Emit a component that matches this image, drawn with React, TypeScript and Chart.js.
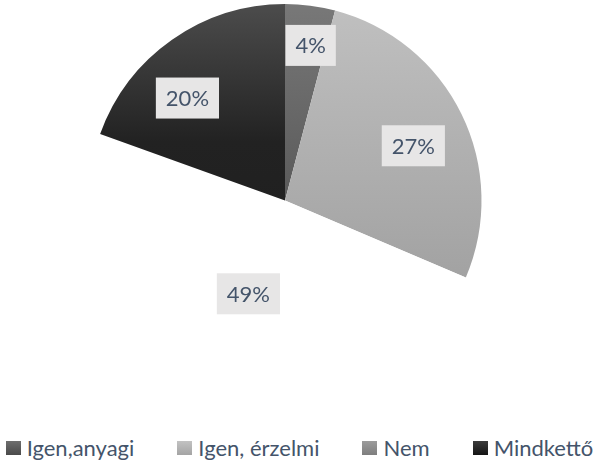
import React, { useEffect, useRef } from "react";
import { Chart, registerables } from "chart.js";

Chart.register(...registerables);

// ---- data ----
const categories = ["Igen,anyagi", "Igen, érzelmi", "Nem", "Mindkettő"];
const values = [4.1, 27.3, 49.1, 19.5];

// ---- styles / layout ----
const FONT = "Lato, 'Open Sans', sans-serif";
const TEXT_COLOR = "#44546A";
const LEGEND_GRADIENTS = [
  "linear-gradient(#6e6e6e, #4a4a4a)",
  "linear-gradient(#c2c2c2, #a4a4a4)",
  "linear-gradient(#9c9c9c, #7e7e7e)",
  "linear-gradient(#3c3c3c, #141414)",
];
const SLICE_FALLBACK = ["#5e5e5e", "#b3b3b3", "#ffffff", "#2b2b2b"];
const SLICE_STOPS: Array<Array<[number, string]>> = [
  [[0, "#787878"], [0.5, "#5a5a5a"], [1, "#4a4a4a"]],
  [[0, "#c0c0c0"], [0.7, "#a2a2a2"], [1, "#979797"]],
  [[0, "#ffffff"], [1, "#ffffff"]],
  [[0, "#4c4c4c"], [0.35, "#222222"], [1, "#1b1b1b"]],
];
const LABEL_RADIUS = [0.8, 0.71, 0.51, 0.72];
const LABEL_SHIFT_DEG = [2, 3, 0, -8.5];
const LABEL_SIZE = 22;

const labelPlugin = {
  id: "boxLabels",
  afterDatasetsDraw(chart: any) {
    const ctx = chart.ctx;
    const meta = chart.getDatasetMeta(0);
    const total = values.reduce((a, b) => a + b, 0);
    ctx.save();
    ctx.font = `${LABEL_SIZE}px ${FONT}`;
    meta.data.forEach((arc: any, i: number) => {
      const { x, y, startAngle, endAngle, outerRadius } = arc.getProps(
        ["x", "y", "startAngle", "endAngle", "outerRadius"],
        true
      );
      const a = (startAngle + endAngle) / 2 + (LABEL_SHIFT_DEG[i] * Math.PI) / 180;
      const r = outerRadius * LABEL_RADIUS[i];
      const px = x + Math.cos(a) * r;
      const py = y + Math.sin(a) * r;
      const text = Math.round((values[i] / total) * 100) + "%";
      const w = ctx.measureText(text).width + 20;
      const h = 41;
      ctx.fillStyle = "#E7E6E6";
      ctx.fillRect(px - w / 2, py - h / 2, w, h);
      ctx.fillStyle = TEXT_COLOR;
      ctx.textAlign = "center";
      ctx.textBaseline = "middle";
      ctx.fillText(text, px, py + 1);
    });
    ctx.restore();
  },
};

export default function App() {
  const ref = useRef<HTMLCanvasElement | null>(null);
  useEffect(() => {
    if (!ref.current) return;
    const chart = new Chart(ref.current, {
      type: "pie",
      data: {
        labels: categories,
        datasets: [
          {
            data: values,
            borderWidth: 0,
            backgroundColor: (c: any) => {
              const chart = c.chart;
              const area = chart.chartArea;
              const i = c.dataIndex;
              if (!area) return SLICE_FALLBACK[i];
              const g = chart.ctx.createLinearGradient(0, area.top, 0, area.bottom);
              SLICE_STOPS[i].forEach(([o, col]) => g.addColorStop(o, col));
              return g;
            },
          },
        ],
      },
      options: {
        responsive: false,
        animation: false,
        layout: { padding: { top: 4, left: 0, right: 29, bottom: 0 } },
        plugins: {
          tooltip: { enabled: false },
          legend: { display: false },
        },
      },
      plugins: [labelPlugin],
    } as any);
    return () => chart.destroy();
  }, []);
  return (
    <div
      style={{
        position: "absolute",
        left: 0,
        top: 0,
        width: 599,
        height: 465,
        overflow: "hidden",
        background: "#fff",
      }}
    >
      <canvas ref={ref} width={599} height={397} style={{ display: "block" }} />
      <div
        style={{
          position: "absolute",
          left: 0,
          top: 434,
          width: 599,
          height: 27,
          display: "flex",
          justifyContent: "center",
          alignItems: "center",
          gap: 43,
          fontFamily: FONT,
          fontSize: 22,
          lineHeight: "27px",
          color: TEXT_COLOR,
          whiteSpace: "nowrap",
        }}
      >
        {categories.map((c, i) => (
          <div key={c} style={{ display: "flex", alignItems: "center" }}>
            <span
              style={{
                display: "inline-block",
                width: 15,
                height: 14,
                background: LEGEND_GRADIENTS[i],
                marginRight: 6,
              }}
            />
            <span>{c}</span>
          </div>
        ))}
      </div>
    </div>
  );
}
